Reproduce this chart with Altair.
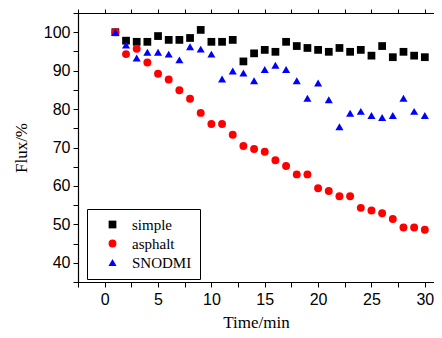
import altair as alt
import pandas as pd

time = list(range(1, 31))
simple = [100, 97.8, 97.5, 97.5, 99, 98, 98, 98.5, 100.6, 97.5, 97.5, 98, 92.4, 94.5, 95.4,
          94.9, 97.5, 96.4, 95.9, 95.4, 94.9, 95.9, 94.9, 95.4, 93.9, 96.4, 93.5, 94.9, 93.9, 93.5]
asphalt = [100, 94.3, 95.7, 92.1, 89.2, 87.7, 84.9, 82.7, 79, 76.1, 76.1, 73.3, 70.4, 69.6, 68.9,
           66.7, 65.2, 63, 63, 59.4, 58.7, 57.3, 57.3, 54.3, 53.6, 52.9, 51.4, 49.2, 49.2, 48.6]
snodmi = [100, 96.7, 93.3, 94.8, 94.8, 94.3, 92.8, 96.2, 95.6, 94.3, 87.8, 89.9, 89.4, 87.4, 90.3,
          91.4, 90.3, 87.4, 82.8, 86.8, 82.4, 75.4, 78.9, 79.4, 78.3, 77.8, 78.3, 82.8, 79.4, 78.3]
series = ["simple", "asphalt", "SNODMI"]

rows = []
for name, vals in zip(series, [simple, asphalt, snodmi]):
    for t, v in zip(time, vals):
        rows.append({"time": t, "flux": v, "series": name})
df = pd.DataFrame(rows)

xticks = [-2.5 + 2.5 * i for i in range(14)]
yticks = [35 + 5 * i for i in range(15)]

xscale = alt.Scale(domain=[-2.5, 30.86], nice=False, zero=False)
yscale = alt.Scale(domain=[35, 105], nice=False, zero=False)

yaxis = alt.Axis(title="Flux/%", values=yticks,
                 labelExpr="datum.value % 10 === 0 ? datum.label : ''",
                 tickSize=5, labelPadding=3, titlePadding=13)

points = alt.Chart(df).mark_point(filled=True, opacity=1).encode(
    x=alt.X("time:Q", scale=xscale,
            axis=alt.Axis(title="Time/min", values=xticks,
                          labelExpr="datum.value % 5 === 0 ? datum.label : ''",
                          tickSize=5, labelPadding=4, titlePadding=7)),
    y=alt.Y("flux:Q", scale=yscale, axis=yaxis),
    color=alt.Color("series:N", scale=alt.Scale(domain=series, range=["#000000", "#ff0000", "#0000ff"]),
                    legend=alt.Legend(title=None, orient="none", legendX=9, legendY=196,
                                      strokeColor="black", padding=8, symbolOffset=10,
                                      labelFont="Liberation Serif", labelFontSize=15,
                                      symbolSize=45, rowPadding=3, labelOffset=12)),
    shape=alt.Shape("series:N", scale=alt.Scale(domain=series, range=["square", "circle", "triangle-up"])),
    size=alt.Size("series:N", scale=alt.Scale(domain=series, range=[60, 65, 95]), legend=None),
)

top = alt.Chart(df).mark_point(opacity=0).encode(
    x=alt.X("time:Q", scale=xscale,
            axis=alt.Axis(orient="top", title=None, values=xticks, labels=False, tickSize=4)),
    y=alt.Y("flux:Q", scale=yscale, axis=yaxis),
)

chart = alt.layer(points, top).resolve_axis(x="independent").properties(
    width=356, height=269,
    autosize=alt.AutoSizeParams(type="none"),
    padding={"left": 70, "top": 5, "right": 0, "bottom": 48},
).configure_view(stroke=None).configure_axis(
    grid=False, domainColor="black", tickColor="black", labelColor="black",
    labelFont="Liberation Sans", labelFontSize=16, titleFont="Liberation Serif",
    titleFontSize=17, titleFontWeight="normal", titleColor="black", domainWidth=1.2, tickWidth=1
)

chart.save("out.html", embed_options={"renderer": "svg", "actions": False})
